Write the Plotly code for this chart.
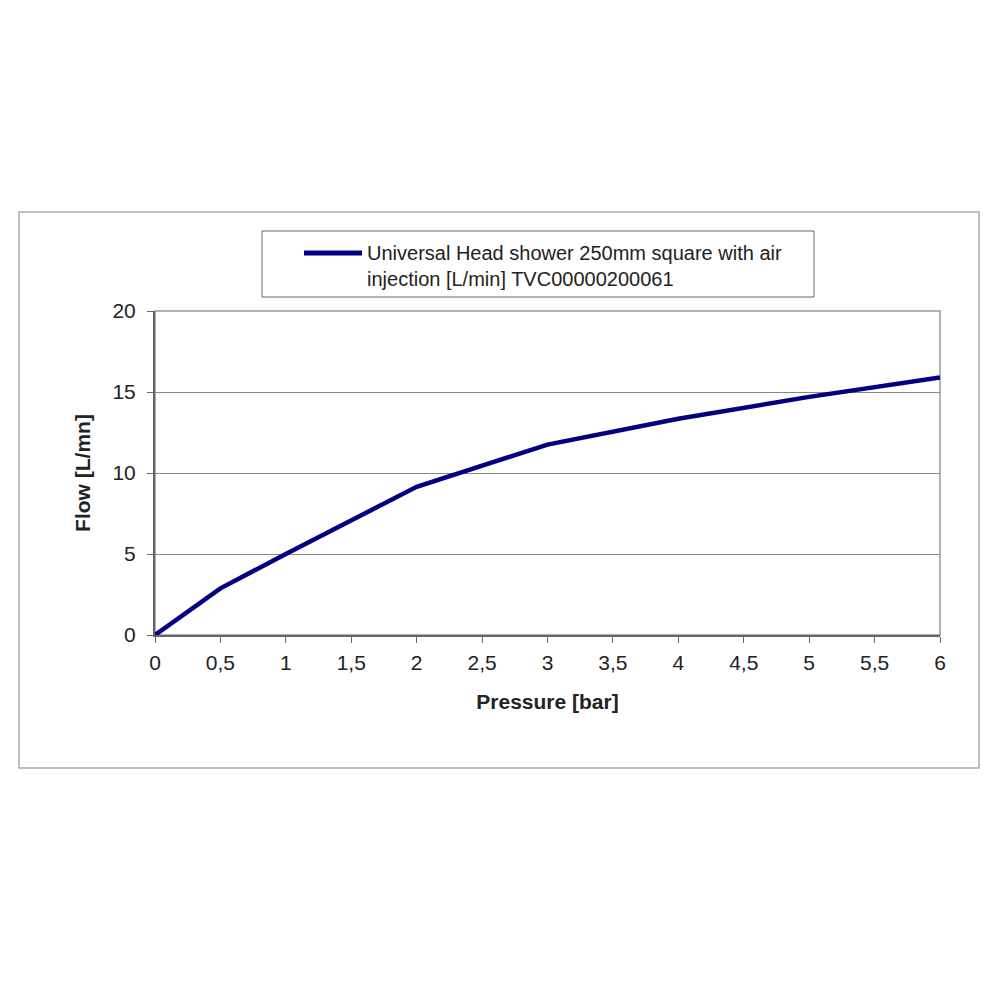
import plotly.graph_objects as go

pressure = [0, 0.5, 1, 1.5, 2, 3, 4, 5, 6]
flow = [0, 2.88, 5.0, 7.1, 9.15, 11.75, 13.35, 14.7, 15.9]
series_name = "Universal Head shower 250mm square with air<br>injection [L/min] TVC00000200061"
x_ticks = [0, 0.5, 1, 1.5, 2, 2.5, 3, 3.5, 4, 4.5, 5, 5.5, 6]
y_ticks = [0, 5, 10, 15, 20]

OFF = 8  # page body margin
PL, PT = 155, 311          # plot area top-left on page
PW, PH = 785, 324          # plot area size
L, T = PL - OFF, PT - OFF
R, B = 1000 - L - PW, 1000 - T - PH


def px(xp):
    return (xp - PL) / PW


def py(yp):
    return (PT + PH - yp) / PH


fig = go.Figure()
fig.add_trace(go.Scatter(x=pressure, y=flow, mode="lines", name=series_name,
                         line=dict(color="#000080", width=4.5), showlegend=False))

fig.update_layout(
    width=1000, height=1000,
    margin=dict(l=L, r=R, t=T, b=B, autoexpand=False),
    paper_bgcolor="white", plot_bgcolor="white",
    separators=",.",
    font=dict(family="Liberation Sans, Arial", size=20, color="#222"),
    showlegend=False,
    xaxis=dict(range=[0, 6], tickvals=x_ticks, showgrid=False, zeroline=False,
               showline=True, linecolor="#666", linewidth=2,
               ticks="outside", ticklen=6, tickcolor="#666", tickwidth=1,
               tickfont=dict(size=21, color="#222"), ticklabelstandoff=2,
               title=dict(text="<b>Pressure [bar]</b>", font=dict(size=21, color="#222"), standoff=21),
               automargin=False),
    yaxis=dict(range=[0, 20], tickvals=y_ticks, showgrid=True, gridcolor="#888", gridwidth=1,
               zeroline=False, showline=True, linecolor="#666", linewidth=2,
               ticks="outside", ticklen=6, tickcolor="#666", tickwidth=1,
               tickfont=dict(size=21, color="#222"), ticklabelstandoff=7,
               title=dict(text="<b>Flow [L/mn]</b>", font=dict(size=21, color="#222"), standoff=16),
               automargin=False),
    shapes=[
        dict(type="rect", xref="paper", yref="paper", x0=px(19), x1=px(979), y0=py(768), y1=py(212),
             line=dict(color="#aaa", width=1.5), layer="below"),
        dict(type="rect", xref="paper", yref="paper", x0=0, x1=1, y0=0, y1=1,
             line=dict(color="#999", width=1.5), layer="below"),
        dict(type="rect", xref="paper", yref="paper", x0=px(262), x1=px(814), y0=py(297), y1=py(231),
             line=dict(color="#666", width=1), layer="below"),
        dict(type="line", xref="paper", yref="paper", x0=px(304), x1=px(362), y0=py(253), y1=py(253),
             line=dict(color="#000080", width=5)),
    ],
    annotations=[
        dict(xref="paper", yref="paper", x=px(365), y=py(265.5), xanchor="left", yanchor="middle",
             text=series_name, showarrow=False, align="left",
             font=dict(size=20, color="#222")),
    ],
)

fig.write_html("out.html")
